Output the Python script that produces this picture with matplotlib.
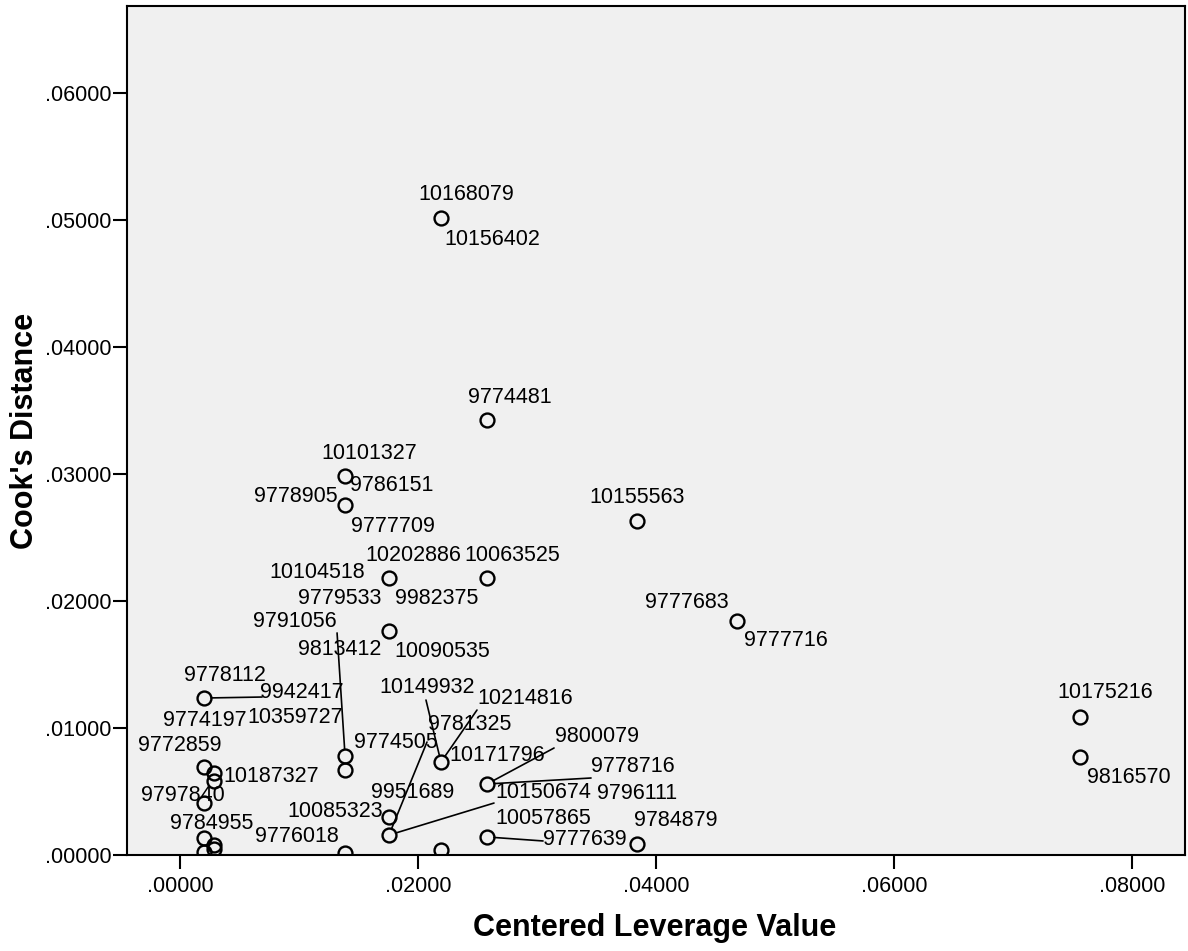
import matplotlib
matplotlib.use('Agg')
from matplotlib import pyplot as plt
from matplotlib.ticker import FuncFormatter, MultipleLocator

# centered leverage (x) and cook's distance (y) per case
leverage = [0.02193, 0.02580, 0.01387, 0.01387, 0.03840, 0.01756, 0.02580, 0.01756,
            0.04681, 0.07563, 0.07563, 0.00202, 0.01387, 0.01387, 0.02193, 0.02580,
            0.01756, 0.01756, 0.02580, 0.03840, 0.00202, 0.00286, 0.00286, 0.00202,
            0.00202, 0.00286, 0.00202, 0.00286, 0.01387, 0.02193]
cooks = [0.05016, 0.03425, 0.02984, 0.02756, 0.02630, 0.02181, 0.02181, 0.01764,
         0.01843, 0.01087, 0.00772, 0.01236, 0.00780, 0.00669, 0.00732, 0.00559,
         0.00157, 0.00299, 0.00142, 0.00087, 0.00693, 0.00646, 0.00583, 0.00409,
         0.00134, 0.00079, 0.00024, 0.00047, 0.00016, 0.00039]

# case ids and which point they belong to
case_ids = ['10168079', '10156402', '9774481', '10101327', '9786151', '9778905', '9777709',
            '10155563', '10202886', '10104518', '9779533', '9982375', '10063525', '9813412',
            '10090535', '9777683', '9777716', '10175216', '9816570', '9778112', '9942417',
            '9774197', '10359727', '9791056', '10149932', '10214816', '9781325', '10171796',
            '9800079', '9778716', '9796111', '10085323', '9774505', '10150674', '9951689',
            '10057865', '9777639', '9784879', '9772859', '10187327', '9797840', '9784955',
            '9776018']
case_point = [0, 0, 1, 2, 2, 3, 3, 4, 5, 5, 5, 6, 6, 7, 7, 8, 8, 9, 10, 11, 11, 11, 11,
              12, 14, 14, 14, 14, 15, 15, 15, 16, 16, 16, 17, 18, 18, 19, 20, 21, 23, 24, 28]

# label placement (pixels from the point, image y pointing down)
label_offsets = [(25, -23), (51, 22), (23, -23), (24, -23), (47, 9), (-49, -8), (48, 22),
                 (0, -23), (24, -23), (-72, -6), (-49, 20), (-50, 20), (25, -23), (-49, 19),
                 (53, 21), (-50, -18), (49, 20), (25, -24), (49, 21), (21, -23), (98, -6),
                 (1, 22), (91, 19), (-50, -134), (-14, -75), (84, -64), (29, -38), (56, -7),
                 (110, -48), (146, -18), (150, 9), (-54, -24), (7, -93), (154, -43), (24, -25),
                 (56, -18), (98, 3), (39, -23), (-24, -21), (57, 4), (-21, -8), (8, -14),
                 (-48, -16)]
# leader lines: label index -> end of line (pixels from the point)
leaders = {20: (58, -1), 23: (-8, -123), 24: (-15, -62), 25: (36, -52), 28: (67, -36),
           29: (104, -6), 32: (38, -93), 33: (105, -32), 36: (56, 4)}

xlabel = 'Centered Leverage Value'
ylabel = "Cook's Distance"
font = 'Liberation Sans'


def fmt(v, pos):
    s = '{:.5f}'.format(abs(v))
    return s[1:] if s.startswith('0') else s


def main():
    fig = plt.figure(figsize=(11.88, 9.51), dpi=100)
    ax = fig.add_axes([127 / 1188, 1 - 855 / 951, 1058 / 1188, 849 / 951])
    ax.set_facecolor('#f0f0f0')

    ax.plot(leverage, cooks, ls='none', marker='o', ms=10, mfc='none', mec='black', mew=1.7,
            zorder=3)

    for idx, (cid, p) in enumerate(zip(case_ids, case_point)):
        dx, dy = label_offsets[idx]
        ax.annotate(cid, xy=(leverage[p], cooks[p]), xytext=(dx, -dy), textcoords='offset pixels',
                    ha='center', va='center', fontsize=15.5, family=font, annotation_clip=False,
                    zorder=4)
        if idx in leaders:
            ex, ey = leaders[idx]
            ax.annotate('', xy=(leverage[p], cooks[p]), xytext=(ex, -ey), textcoords='offset pixels',
                        arrowprops=dict(arrowstyle='-', color='black', lw=1.2, shrinkA=0, shrinkB=5,
                                        patchA=None), zorder=2)

    ax.set_xlim(-0.004454, 0.08445)
    ax.set_ylim(0, 0.06685)
    ax.xaxis.set_major_locator(MultipleLocator(0.02))
    ax.yaxis.set_major_locator(MultipleLocator(0.01))
    ax.xaxis.set_major_formatter(FuncFormatter(fmt))
    ax.yaxis.set_major_formatter(FuncFormatter(fmt))
    ax.tick_params(direction='out', length=10, width=1.5, labelsize=15.5, pad=1)
    ax.tick_params(axis='x', pad=5)
    for lab in ax.get_xticklabels() + ax.get_yticklabels():
        lab.set_family(font)
    for sp in ax.spines.values():
        sp.set_linewidth(1.5)

    ax.set_xlabel(xlabel, fontsize=22, fontweight='bold', family=font, va='center')
    ax.xaxis.set_label_coords(0.499, -0.086)
    ax.set_ylabel(ylabel, fontsize=22, fontweight='bold', family=font, va='center')
    ax.yaxis.set_label_coords(-0.0964, 0.5)

    plt.savefig('out.png', dpi=100)
    plt.close()


if __name__ == '__main__':
    main()
